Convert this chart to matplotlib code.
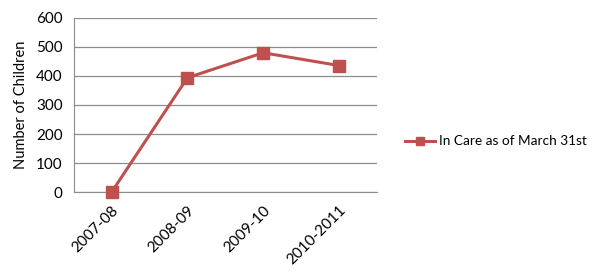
import matplotlib.pyplot as plt

categories = ["2007-08", "2008-09", "2009-10", "2010-2011"]
in_care = [0, 394, 480, 436]
y_ticks = [0, 100, 200, 300, 400, 500, 600]

plt.rcParams['font.family'] = ['Lato', 'DejaVu Sans']

fig = plt.figure(figsize=(6.0, 2.72), dpi=100)
ax = fig.add_axes([0.123, 0.294, 0.505, 0.64])

x = list(range(len(categories)))
ax.plot(x, in_care, color="#C0504D", linewidth=2.2, marker="s", markersize=9,
        label="In Care as of March 31st", clip_on=False, zorder=3)

ax.set_xlim(-0.5, len(categories) - 0.5)
ax.set_ylim(0, 600)
ax.set_yticks(y_ticks)
ax.set_xticks(x)
ax.set_xticklabels(categories, rotation=45, ha="right", rotation_mode="anchor")
ax.tick_params(axis="both", length=0, labelsize=11, colors="#000000")
ax.tick_params(axis="y", pad=8)
ax.tick_params(axis="x", pad=8)
ax.grid(axis="y", color="#8C8C8C", linewidth=0.9)
ax.set_axisbelow(True)
for side in ["top", "right"]:
    ax.spines[side].set_visible(False)
ax.spines["left"].set_color("#8C8C8C")
ax.spines["bottom"].set_color("#8C8C8C")
ax.set_ylabel("Number of Children", fontsize=10.5, labelpad=6)

leg = fig.legend(loc="center left", bbox_to_anchor=(0.655, 0.48), frameon=False,
                 fontsize=9.8, handlelength=2.2, handletextpad=0.3, markerscale=0.7)

fig.savefig("out.png", dpi=100)
